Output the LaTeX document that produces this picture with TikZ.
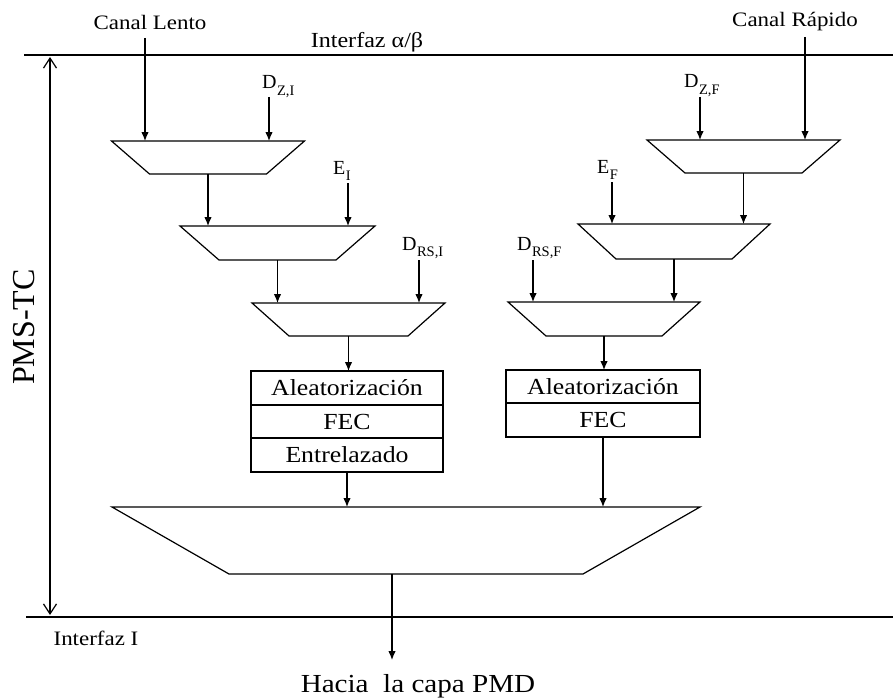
\documentclass[tikz,border=0pt]{standalone}
\usepackage{fontspec}
\usepackage{graphicx}
\setmainfont{Liberation Serif}
\usetikzlibrary{arrows.meta}

% slightly widened lettering
\newcommand{\widetxt}[1]{\scalebox{1.12}[1]{#1}}
% symbol with a lowered small subscript
\newcommand{\sublab}[2]{#1\kern0.6pt\raisebox{-6.5pt}{\fontsize{14.5}{15}\selectfont #2}}
% outline of a multiplexer: wide top edge, narrower bottom edge
\newcommand{\muxoutline}[2]{%
  \draw[line width=1.2pt, line join=miter] (#1.north west) -- (#1.north east)
    -- ([xshift=-#2pt]#1.south east) -- ([xshift=#2pt]#1.south west) -- cycle;}

\begin{document}
\begin{tikzpicture}[x=1pt,y=-1pt,
  every node/.style={inner sep=0pt, outer sep=0pt},
  mux/.style={rectangle, minimum width=193pt, minimum height=33pt},
  stage/.style={draw, line width=1.3pt, minimum width=192pt, minimum height=34pt,
    font=\fontsize{23}{26}\selectfont},
  arr/.style={-{Latex[length=9pt,width=7.5pt]}, line width=1.2pt},
  iface/.style={line width=2.8pt},
  lbl/.style={font=\fontsize{20.5}{24}\selectfont},
  sym/.style={font=\fontsize{20}{22}\selectfont, anchor=base west}
]
\useasboundingbox (0,0) rectangle (893,698);

% interface lines
\coordinate (ia) at (24,55);   \coordinate (ib) at (893,55);
\coordinate (ja) at (26,617);  \coordinate (jb) at (893,617);
\draw[iface] (ia) -- (ib);
\draw[iface] (ja) -- (jb);
\node[lbl, font=\fontsize{21.5}{24}\selectfont] (ialpha) at (367,42) {\widetxt{Interfaz α/β}};
\node[lbl] (iI) at (96,638) {\widetxt{Interfaz I}};

% PMS-TC span
\coordinate (sp1) at (50,57);
\coordinate (sp2) at (50,615);
\draw[{Straight Barb[length=10pt,width=13pt]}-{Straight Barb[length=10pt,width=13pt]}, line width=1.2pt] (sp1) -- (sp2);
\node[rotate=90, font=\fontsize{32}{34}\selectfont] (pms) at (24,327) {PMS-TC};

% channel inputs
\node[lbl] (lento) at (150,22) {\widetxt{Canal Lento}};
\node[lbl] (rapido) at (795,22) {\widetxt{Canal Rápido}};
\coordinate (lin) at (145,38);
\coordinate (rin) at (805,37);

% multiplexers, slow path
\node[mux] (m1) at (208,157.5) {};
\node[mux, minimum width=195pt, minimum height=34pt] (m2) at (277.5,243) {};
\node[mux] (m3) at (348.5,319.5) {};
% multiplexers, fast path
\node[mux] (f1) at (743.5,156.5) {};
\node[mux, minimum width=192pt, minimum height=35pt] (f2) at (674,241.5) {};
\node[mux, minimum width=192pt, minimum height=34pt] (f3) at (604,319) {};
% output multiplexer
\node[mux, minimum width=588pt, minimum height=67pt] (mo) at (406,540.5) {};

\muxoutline{m1}{38}
\muxoutline{m2}{39}
\muxoutline{m3}{37}
\muxoutline{f1}{38}
\muxoutline{f2}{38}
\muxoutline{f3}{38}
\muxoutline{mo}{117}

% side inputs and their symbols
\node[sym] (dzi) at (262,89) {\sublab{D}{Z,I}};
\node[sym] (ei) at (333,174) {\sublab{E}{I}};
\node[sym] (drsi) at (402,250) {\sublab{D}{RS,I}};
\node[sym] (dzf) at (684,88) {\sublab{D}{Z,F}};
\node[sym] (ef) at (597,173) {\sublab{E}{F}};
\node[sym] (drsf) at (517,250) {\sublab{D}{RS,F}};
\coordinate (dzin) at (269,97);
\coordinate (eiin) at (348,183);
\coordinate (drsin) at (419,260);
\coordinate (dzfn) at (700,97);
\coordinate (efn) at (612,182);
\coordinate (drsfn) at (533,260);

% coding stages
\node[stage] (a1) at (347,388) {\widetxt{Aleatorización}};
\node[stage] (c1) at (347,421.5) {\widetxt{FEC}};
\node[stage] (e1) at (347,455) {\widetxt{Entrelazado}};
\node[stage, minimum width=194pt, minimum height=33pt] (a2) at (603,386.5) {\widetxt{Aleatorización}};
\node[stage, minimum width=194pt, minimum height=34pt] (c2) at (603,420) {\widetxt{FEC}};

% slow path connectors
\draw[arr] (lin) -- (lin |- m1.north);
\draw[arr] (dzin) -- (dzin |- m1.north);
\draw[arr] (m1.south) -- (m1.south |- m2.north);
\draw[arr] (eiin) -- (eiin |- m2.north);
\draw[arr] (m2.south) -- (m2.south |- m3.north);
\draw[arr] (drsin) -- (drsin |- m3.north);
\draw[arr] (m3.south) -- (m3.south |- a1.north);
\draw[arr] (e1.south) -- (e1.south |- mo.north);

% fast path connectors
\draw[arr] (rin) -- (rin |- f1.north);
\draw[arr] (dzfn) -- (dzfn |- f1.north);
\draw[arr] (f1.south) -- (f1.south |- f2.north);
\draw[arr] (efn) -- (efn |- f2.north);
\draw[arr] (f2.south) -- (f2.south |- f3.north);
\draw[arr] (drsfn) -- (drsfn |- f3.north);
\draw[arr] (f3.south) -- (f3.south |- a2.north);
\draw[arr] (c2.south) -- (c2.south |- mo.north);

% towards PMD
\coordinate (pmdin) at (392,660);
\draw[arr] (pmdin |- mo.south) -- (pmdin);
\node[font=\fontsize{26}{28}\selectfont] (pmd) at (418,686) {\widetxt{Hacia\ \ la capa PMD}};
\end{tikzpicture}
\end{document}
